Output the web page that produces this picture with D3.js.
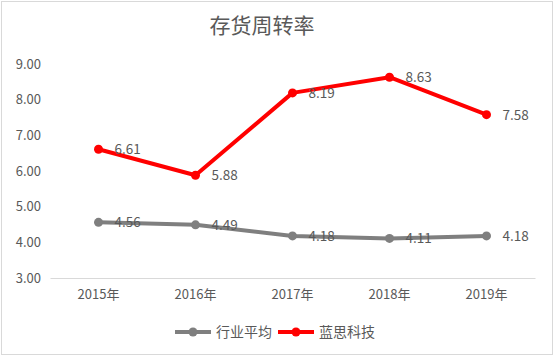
<!DOCTYPE html>
<html><head><meta charset="utf-8">
<script src="https://cdn.jsdelivr.net/npm/d3@7"></script>
<style>body{margin:0;background:#fff}svg{display:block}text{font-family:"Noto Sans CJK SC","Microsoft YaHei",sans-serif}</style>
</head><body>
<script>
const categories = ["2015年","2016年","2017年","2018年","2019年"];
const industryAvg = [4.56,4.49,4.18,4.11,4.18];
const lensTech = [6.61,5.88,8.19,8.63,7.58];
const seriesNames = ["行业平均","蓝思科技"];
const seriesColors = ["#7f7f7f","#ff0000"];
const yTicks = [3,4,5,6,7,8,9];
const title = "存货周转率";

const W=555,H=357;
const svg=d3.select("body").append("svg").attr("width",W).attr("height",H);
svg.append("rect").attr("x",1.5).attr("y",1.5).attr("width",W-4).attr("height",H-4).attr("fill","#fff").attr("stroke","#d9d9d9");

const x=d3.scaleBand().domain(categories).range([50,535]);
const y=d3.scaleLinear().domain([3,9]).range([278,64]);

svg.append("text").attr("x",262).attr("y",33).attr("text-anchor","middle").attr("font-size",21).attr("fill","#595959").text(title);

// y axis labels
const ya=svg.append("g").attr("transform","translate(41,0)").call(d3.axisLeft(y).tickValues(yTicks).tickFormat(d3.format(".2f")).tickSize(0).tickPadding(0));
ya.select(".domain").remove();
ya.selectAll("text").attr("font-size",13).attr("fill","#595959").attr("font-family","Liberation Sans, Arial, sans-serif");

// x axis
const xa=svg.append("g").attr("transform","translate(0,278)").call(d3.axisBottom(x).tickSize(0).tickPadding(12));
xa.select(".domain").attr("stroke","#d9d9d9");
xa.selectAll("text").attr("font-size",13).attr("fill","#595959");

const cx=d=>x(d)+x.bandwidth()/2;
const data=[industryAvg,lensTech];
data.forEach((vals,i)=>{
  const pts=vals.map((v,j)=>({c:categories[j],v}));
  svg.append("path").datum(pts).attr("fill","none").attr("stroke",seriesColors[i]).attr("stroke-width",4).attr("stroke-linejoin","round").attr("stroke-linecap","round")
    .attr("d",d3.line().x(d=>cx(d.c)).y(d=>y(d.v)));
  svg.selectAll(null).data(pts).enter().append("circle").attr("cx",d=>cx(d.c)).attr("cy",d=>y(d.v)).attr("r",4.5).attr("fill",seriesColors[i]);
  svg.selectAll(null).data(pts).enter().append("text").attr("x",d=>cx(d.c)+16).attr("y",d=>y(d.v)).attr("dy","0.36em")
    .attr("font-size",13.5).attr("fill","#595959").attr("font-family","Liberation Sans, Arial, sans-serif").text(d=>d.v.toFixed(2));
});

// legend
const lg=[{x:175,name:seriesNames[0],c:seriesColors[0]},{x:278,name:seriesNames[1],c:seriesColors[1]}];
lg.forEach(l=>{
  svg.append("line").attr("x1",l.x).attr("x2",l.x+36).attr("y1",332).attr("y2",332).attr("stroke",l.c).attr("stroke-width",4);
  svg.append("circle").attr("cx",l.x+18).attr("cy",332).attr("r",4.5).attr("fill",l.c);
  svg.append("text").attr("x",l.x+41).attr("y",332).attr("dy","0.36em").attr("font-size",14).attr("fill","#595959").text(l.name);
});
</script>
</body></html>
